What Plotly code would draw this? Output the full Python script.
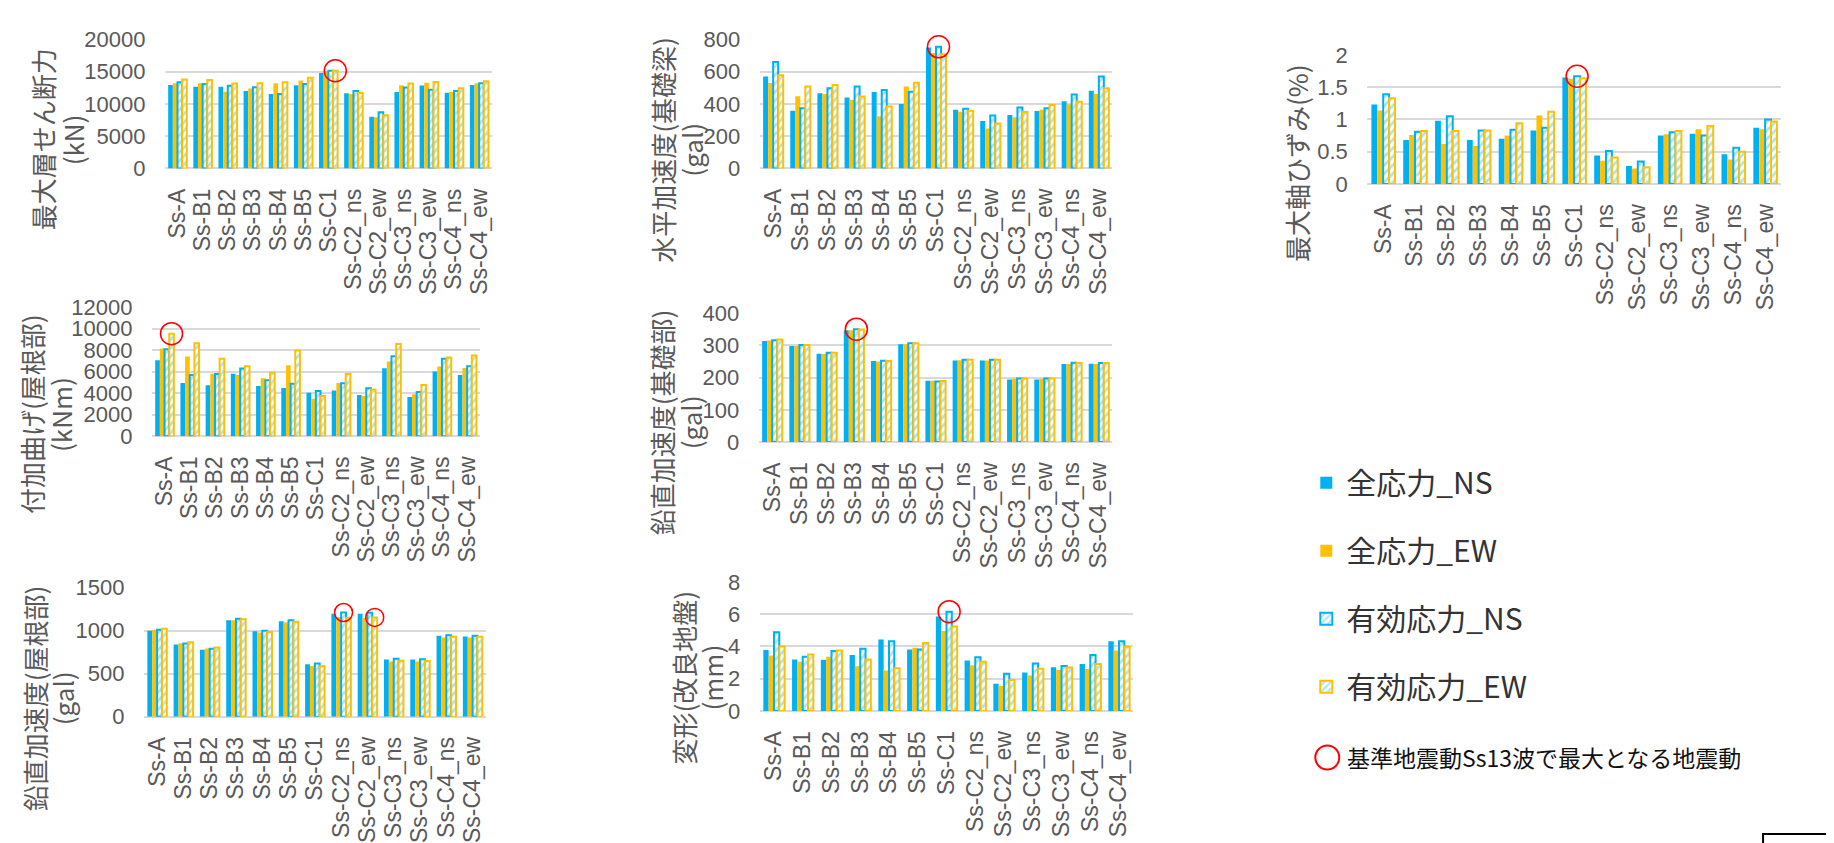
import plotly.graph_objects as go

# 地震動ケース
cats = ["Ss-A", "Ss-B1", "Ss-B2", "Ss-B3", "Ss-B4", "Ss-B5", "Ss-C1",
        "Ss-C2_ns", "Ss-C2_ew", "Ss-C3_ns", "Ss-C3_ew", "Ss-C4_ns", "Ss-C4_ew"]
series_names = ["全応力_NS", "全応力_EW", "有効応力_NS", "有効応力_EW"]

# 最大層せん断力 (kN)
shear_ns = [12950, 12650, 12650, 12000, 11550, 12900, 14800, 11650, 8000, 11850, 12850, 11750, 12950]
shear_ew = [13200, 13200, 11900, 12400, 13200, 13650, 15100, 11550, 7950, 12900, 13300, 11850, 13200]
shear_ens = [13350, 13100, 12800, 12600, 11550, 13100, 15150, 12000, 8700, 12550, 12200, 12000, 13200]
shear_eew = [13800, 13700, 13150, 13200, 13350, 14050, 15150, 11700, 8250, 13150, 13400, 12450, 13500]

# 水平加速度(基礎梁) (gal)
hacc_ns = [570, 358, 466, 440, 474, 400, 750, 364, 294, 332, 356, 416, 482]
hacc_ew = [530, 448, 462, 426, 324, 508, 716, 352, 248, 318, 364, 398, 462]
hacc_ens = [660, 374, 498, 508, 486, 476, 754, 370, 328, 378, 374, 458, 570]
hacc_eew = [578, 508, 518, 446, 384, 532, 708, 358, 278, 350, 394, 414, 498]

# 最大軸ひずみ (%)
strain_ns = [1.23, 0.68, 0.98, 0.68, 0.70, 0.83, 1.65, 0.44, 0.28, 0.75, 0.78, 0.46, 0.87]
strain_ew = [1.14, 0.76, 0.62, 0.59, 0.75, 1.06, 1.63, 0.36, 0.24, 0.77, 0.85, 0.38, 0.85]
strain_ens = [1.39, 0.81, 1.05, 0.83, 0.84, 0.87, 1.67, 0.51, 0.35, 0.80, 0.75, 0.56, 1.00]
strain_eew = [1.33, 0.82, 0.82, 0.83, 0.94, 1.12, 1.64, 0.41, 0.26, 0.82, 0.90, 0.50, 0.97]

# 付加曲げ(屋根部) (kNm)
moment_ns = [7080, 4950, 4740, 5820, 4680, 4500, 4050, 4260, 3840, 6330, 3660, 6030, 5700]
moment_ew = [8160, 7410, 5820, 5700, 5400, 6600, 3480, 4950, 3750, 6960, 3900, 6480, 6360]
moment_ens = [8100, 5700, 5790, 6300, 5220, 4890, 4200, 4920, 4470, 7440, 4110, 7200, 6510]
moment_eew = [9540, 8640, 7200, 6510, 5910, 7980, 3750, 5790, 4350, 8580, 4770, 7320, 7500]

# 鉛直加速度(基礎部) (gal)
vbase_ns = [313, 298, 274, 347, 251, 303, 190, 253, 253, 194, 194, 242, 243]
vbase_ew = [315, 298, 273, 347, 250, 303, 190, 254, 253, 196, 196, 242, 242]
vbase_ens = [316, 301, 277, 350, 252, 306, 188, 255, 255, 197, 197, 246, 245]
vbase_eew = [318, 301, 277, 349, 251, 306, 189, 255, 255, 197, 197, 245, 245]

# 鉛直加速度(屋根部) (gal)
vroof_ns = [1000, 838, 778, 1120, 993, 1109, 609, 1196, 1196, 666, 666, 940, 933]
vroof_ew = [1011, 853, 793, 1120, 978, 1094, 590, 1158, 1147, 643, 643, 921, 921]
vroof_ens = [1011, 850, 790, 1139, 1000, 1120, 617, 1211, 1207, 673, 669, 948, 940]
vroof_eew = [1023, 865, 805, 1132, 985, 1105, 587, 1150, 1154, 650, 647, 929, 929]

# 変形(改良地盤) (mm)
deform_ns = [3.77, 3.19, 3.17, 3.47, 4.43, 3.81, 5.85, 3.13, 1.68, 2.38, 2.71, 2.91, 4.31]
deform_ew = [3.43, 3.05, 3.35, 2.77, 2.51, 3.91, 4.95, 2.83, 1.54, 2.20, 2.53, 2.59, 3.75]
deform_ens = [4.87, 3.35, 3.71, 3.85, 4.31, 3.81, 6.15, 3.33, 2.30, 2.93, 2.79, 3.47, 4.31]
deform_eew = [3.99, 3.49, 3.75, 3.19, 2.65, 4.21, 5.23, 3.05, 1.92, 2.61, 2.69, 2.91, 3.97]

# 最大となる地震動 (ケース, 系列番号)
shear_max = [("Ss-C1", 3)]
hacc_max = [("Ss-C1", 2)]
strain_max = [("Ss-C1", 2)]
moment_max = [("Ss-A", 3)]
vbase_max = [("Ss-B3", 2)]
vroof_max = [("Ss-C2_ns", 2), ("Ss-C2_ew", 3)]
deform_max = [("Ss-C1", 2)]

note_text = "基準地震動Ss13波で最大となる地震動"

W, H = 1834, 843
BLUE = "#00B0F0"
ORANGE = "#FFC000"
GRAY = "#595959"
GRID = "#D9D9D9"

# title lines, data, y max, dtick, tick format, max list,
# plot box px (x0, x1, ytop, ybottom), circle radius, title px (x of each line, y centre)
panels = [
    (["最大層せん断力", "(kN)"], [shear_ns, shear_ew, shear_ens, shear_eew], 20000, 5000, "d",
     shear_max, (156, 483, 20, 153), 11, ([33, 63], 123)),
    (["水平加速度(基礎梁)", "(gal)"], [hacc_ns, hacc_ew, hacc_ens, hacc_eew], 800, 200, "d",
     hacc_max, (751, 1104, 20, 153), 11, ([653, 682], 134)),
    (["最大軸ひずみ(%)"], [strain_ns, strain_ew, strain_ens, strain_eew], 2, 0.5, "",
     strain_max, (1359, 1773, 36, 169), 11, ([1288], 147)),
    (["付加曲げ(屋根部)", "(kNm)"], [moment_ns, moment_ew, moment_ens, moment_eew], 12000, 2000, "d",
     moment_max, (143, 471, 296, 429), 11, ([23, 52], 406)),
    (["鉛直加速度(基礎部)", "(gal)"], [vbase_ns, vbase_ew, vbase_ens, vbase_eew], 400, 100, "d",
     vbase_max, (750, 1104, 302, 435), 11, ([653, 682], 415)),
    (["鉛直加速度(屋根部)", "(gal)"], [vroof_ns, vroof_ew, vroof_ens, vroof_eew], 1500, 500, "d",
     vroof_max, (135, 477, 585, 718), 9, ([25, 53], 699)),
    (["変形(改良地盤)", "(mm)"], [deform_ns, deform_ew, deform_ens, deform_eew], 8, 2, "d",
     deform_max, (751, 1125, 579, 712), 11, ([675, 703], 678)),
]

BARGAP = 0.26
fig = go.Figure()
shapes = []
annotations = []
layout = {}

for i, (title, data, ymax, dtick, tfmt, maxes, box, rad, tpos) in enumerate(panels):
    n = "" if i == 0 else str(i + 1)
    xa, ya = "x" + n, "y" + n
    for k, vals in enumerate(data):
        color = BLUE if k % 2 == 0 else ORANGE
        marker = dict(color=color, line=dict(width=0))
        if k >= 2:
            marker = dict(color="white",
                          line=dict(color=color, width=2),
                          pattern=dict(shape="/", fgcolor="#55C8F2", bgcolor="white",
                                       size=6, solidity=0.45))
        fig.add_trace(go.Bar(x=cats, y=vals, name=series_names[k], marker=marker,
                             xaxis=xa, yaxis=ya, legendgroup=series_names[k],
                             showlegend=(i == 0)))
    x0, x1, yt, yb = box
    layout["xaxis" + n] = dict(
        domain=[x0 / W, x1 / W], anchor=ya, type="category",
        tickmode="array", tickvals=cats, ticktext=cats, tickangle=-90,
        tickfont=dict(family="Liberation Sans, Arial", size=23, color=GRAY),
        showgrid=False, showline=False,
        ticks="outside", ticklen=10, tickcolor="rgba(0,0,0,0)",
    )
    layout["yaxis" + n] = dict(
        domain=[1 - yb / H, 1 - yt / H], anchor=xa, range=[0, ymax],
        dtick=dtick, tick0=0, tickformat=tfmt, exponentformat="none",
        tickfont=dict(family="Liberation Sans, Arial", size=22, color=GRAY),
        gridcolor=GRID, gridwidth=1.5, zeroline=True, zerolinecolor=GRID,
        zerolinewidth=1.5, showline=False,
        ticks="outside", ticklen=14, tickcolor="rgba(0,0,0,0)",
    )
    # 縦書きの軸タイトル (1行ずつ)
    txs, tyc = tpos
    for line, tx in zip(title, txs):
        annotations.append(dict(text=line, xref="paper", yref="paper",
                                x=tx / W, y=1 - tyc / H, xanchor="center", yanchor="middle",
                                textangle=-90, showarrow=False,
                                font=dict(family="Noto Sans CJK JP", size=26, color=GRAY)))
    # 最大値の赤丸 (軸のdomain基準なので枠外でも切れない)
    group_w = 1 - BARGAP
    for cat, k in maxes:
        idx = cats.index(cat)
        off = -group_w / 2 + group_w / 4 * (k + 0.5)
        shapes.append(dict(type="circle", xref=xa + " domain", yref=ya + " domain",
                           xsizemode="pixel", ysizemode="pixel",
                           xanchor=(idx + 0.5 + off) / len(cats),
                           yanchor=data[k][idx] / ymax,
                           x0=-rad, x1=rad, y0=-rad, y1=rad,
                           line=dict(color="#FF0000", width=1.5)))

# 凡例の赤丸と説明
shapes.append(dict(type="circle", xref="paper", yref="paper",
                   xsizemode="pixel", ysizemode="pixel",
                   xanchor=1319 / W, yanchor=1 - 760 / H,
                   x0=-12, x1=12, y0=-12, y1=12,
                   line=dict(color="#FF0000", width=2)))
shapes.append(dict(type="rect", xref="paper", yref="paper",
                   x0=1755 / W, x1=1.05, y0=-0.05, y1=1 - 839 / H,
                   line=dict(color="black", width=2)))
annotations.append(dict(text=note_text, xref="paper", yref="paper",
                        x=1337 / W, y=1 - 760 / H, xanchor="left", yanchor="middle",
                        showarrow=False,
                        font=dict(family="Noto Sans CJK JP", size=23, color="#111111")))

fig.update_layout(
    width=W, height=H,
    margin=dict(l=0, r=0, t=0, b=0),
    paper_bgcolor="white", plot_bgcolor="white",
    barmode="group", bargap=BARGAP, bargroupgap=0,
    shapes=shapes,
    annotations=annotations,
    legend=dict(x=1298 / W, y=1 - 450 / H, xanchor="left", yanchor="top",
                font=dict(family="Noto Sans CJK JP", size=30, color="#333333"),
                tracegroupgap=26, bgcolor="rgba(0,0,0,0)"),
    **layout,
)

fig.write_html("out.html")
